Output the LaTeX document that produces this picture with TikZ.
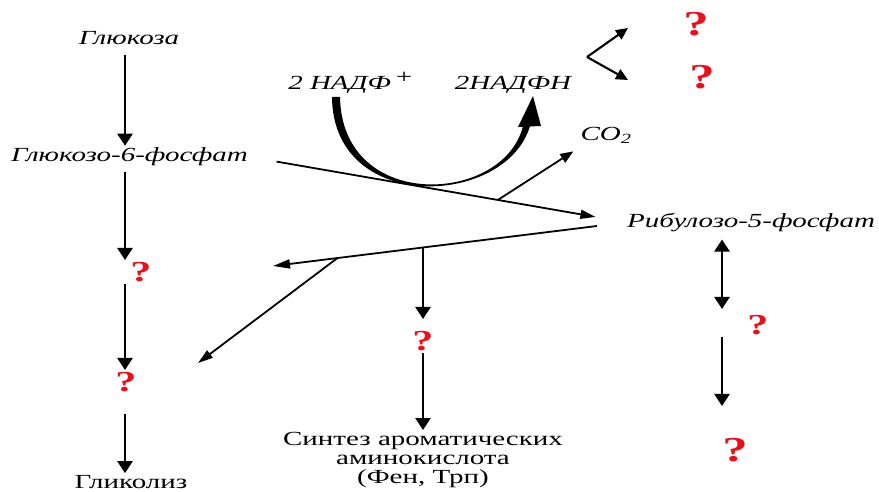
\documentclass[tikz,border=0pt]{standalone}
\usepackage{fontspec}
\setmainfont[FakeStretch=1.45]{Liberation Serif}
\usetikzlibrary{arrows.meta,calc,positioning}
\definecolor{qRed}{HTML}{E8101A}
\tikzset{
  lbl/.style={font=\fontsize{20}{22}\selectfont\itshape, inner sep=2pt},
  txt/.style={font=\fontsize{20}{19}\selectfont, inner sep=2pt, align=center},
  qm/.style={text=qRed, font=\fontsize{29}{29}\selectfont\bfseries, inner sep=2pt},
  qmL/.style={qm, font=\fontsize{35}{35}\selectfont\bfseries},
  arr/.style={-{Triangle[length=12pt,width=15pt]}, line width=2.4pt},
  darr/.style={{Triangle[length=12pt,width=15pt]}-{Triangle[length=12pt,width=15pt]}, line width=2.4pt},
  ln/.style={-{Triangle[length=15pt,width=9pt]}, line width=1.8pt},
}
\begin{document}
\begin{tikzpicture}[x=1pt,y=-1pt]
\useasboundingbox (0,0) rectangle (879,492);
% left column
\coordinate (colL) at (125,0);
\node[lbl] (glc) at (129,38) {Глюкоза};
\node[lbl, anchor=east] (g6p) at (250,157) {Глюкозо-6-фосфат};
\node[qm] (q1) at (141,272) {?};
\node[qm] (q2) at (126,382) {?};
\node[txt] (glyc) at (131,482) {Гликолиз};
\draw[arr, shorten <=8pt] (glc.south -| colL) -- (g6p.north -| colL);
\draw[arr, shorten <=4pt] (g6p.south -| colL) -- (q1.north -| colL);
\draw[arr] (q1.south -| colL) -- (q2.north -| colL);
\draw[arr, shorten <=20pt] (q2.south -| colL) -- (glyc.north -| colL);
% NADP cycle
\node[lbl] (nadp) at (351,83) {2 НАДФ\,\raisebox{6pt}{+}};
\node[lbl] (nadph) at (513,85) {2НАДФН};
\fill (332,97) .. controls (333,215) and (506,207) .. (530,126) -- (523,126)
  .. controls (504,204) and (342,213) .. (340,97) -- cycle;
\fill (533,96) -- (518,127) -- (541,126) -- cycle;
% top right
\coordinate (fork) at (587,57);
\coordinate (f1) at (628,28);
\coordinate (f2) at (628,80);
\node[qmL] (q3) at (696,24) {?};
\node[qmL] (q4) at (702,77) {?};
\draw[ln, line width=2.1pt, -{Triangle[length=12pt,width=11pt]}] (fork) -- (f1);
\draw[ln, line width=2.1pt, -{Triangle[length=12pt,width=11pt]}] (fork) -- (f2);
% pentose branch
\node[lbl, anchor=west] (rib) at (625,222) {Рибулозо-5-фосфат};
\node[lbl] (co2) at (606,135) {CO\textsubscript{2}};
\draw[ln, shorten <=27pt, shorten >=30pt] (g6p.east) -- (rib.west);
\coordinate (c0) at ($(g6p.east)!0.661!(rib.west)$);
\draw[ln, -{Triangle[length=13pt,width=10pt]}] (c0) -- ([xshift=-5pt,yshift=-6pt]co2.south west);
\coordinate (r1) at ([xshift=-28pt,yshift=-4pt]rib.west);
\coordinate (l1) at (273,266);
\draw[ln, -{Triangle[length=17pt,width=9pt]}] (r1) -- (l1);
\coordinate (b1) at ($(r1)!0.801!(l1)$);
\coordinate (b2) at ($(r1)!0.534!(l1)$);
\coordinate (d1) at (198,363);
\draw[ln] (b1) -- (d1);
% middle column
\coordinate (colM) at (423,0);
\node[qm] (q5) at (423,341) {?};
\node[txt] (aro) at (423,460) {Синтез ароматических\\аминокислота\\(Фен, Трп)};
\draw[arr, shorten >=10pt] (b2 -| colM) -- (q5.north);
\draw[arr] (q5.south) -- (aro.north);
% right column
\coordinate (colR) at (722,0);
\node[qm] (q6) at (758,325) {?};
\node[qmL] (q7) at (735,450) {?};
\draw[darr, shorten <=6pt] (rib.south -| colR) -- ([yshift=4pt]q6.north -| colR);
\draw[arr, shorten >=30pt] (q6.south -| colR) -- (q7.north -| colR);
\end{tikzpicture}
\end{document}
